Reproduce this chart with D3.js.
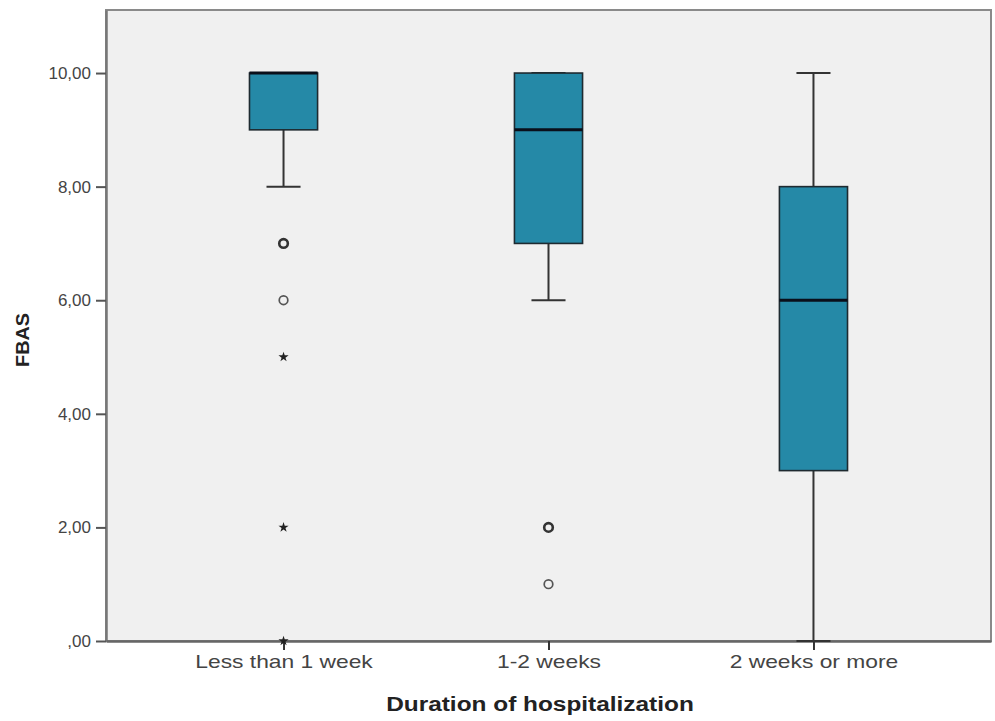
<!DOCTYPE html>
<html>
<head>
<meta charset="utf-8">
<script src="https://cdn.jsdelivr.net/npm/d3@7/dist/d3.min.js"></script>
<style>
  html, body { margin: 0; padding: 0; background: #ffffff; }
  svg { display: block; }
</style>
</head>
<body>
<svg id="chart" width="995" height="721"></svg>
<script>
// Duration-of-hospitalization groups and their FBAS box summaries
const categories = ["Less than 1 week", "1-2 weeks", "2 weeks or more"];
const whiskerLow  = [8, 6, 0];
const q1          = [9, 7, 3];
const median      = [10, 9, 6];
const q3          = [10, 10, 8];
const whiskerHigh = [10, 10, 10];

// Outliers: circles (o) and extremes (*); "count" > 1 draws a heavier ring
const outlierGroup = ["Less than 1 week", "Less than 1 week", "Less than 1 week", "Less than 1 week", "Less than 1 week", "1-2 weeks", "1-2 weeks"];
const outlierValue = [7, 6, 5, 2, 0, 2, 1];
const outlierKind  = ["circle", "circle", "star", "star", "star", "circle", "circle"];
const outlierCount = [2, 1, 1, 1, 1, 2, 1];

const yTicks = [0, 2, 4, 6, 8, 10];
const yTitle = "FBAS";
const xTitle = "Duration of hospitalization";

const svg = d3.select("#chart");
const plot = { left: 106, right: 991, top: 10, bottom: 641 };
const font = "Liberation Sans, Arial, sans-serif";

const x = d3.scalePoint()
  .domain(categories)
  .range([plot.left, plot.right])
  .padding(0.67);

const bw = x.step() * 0.257;   // box width

const y = d3.scaleLinear()
  .domain([0, 11.11])
  .range([plot.bottom, plot.top]);

const boxColor = "#2589a7";

// widen text horizontally by a factor
function stretch(sel, k) {
  sel.each(function () {
    const len = this.getComputedTextLength();
    d3.select(this).attr("textLength", len * k).attr("lengthAdjust", "spacingAndGlyphs");
  });
}

// plot background
svg.append("rect")
  .attr("x", plot.left).attr("y", plot.top)
  .attr("width", plot.right - plot.left).attr("height", plot.bottom - plot.top)
  .attr("fill", "#f0f0f0")
  .attr("stroke", "#8a8a8a").attr("stroke-width", 2);

// y axis
const yAxis = svg.append("g")
  .attr("transform", `translate(${plot.left},0)`)
  .call(d3.axisLeft(y).tickValues(yTicks).tickSize(10).tickSizeOuter(0).tickPadding(5)
    .tickFormat(d => d === 0 ? ",00" : d3.format(".2f")(d).replace(".", ",")));
yAxis.select(".domain").attr("stroke", "#777").attr("stroke-width", 2.5);
yAxis.selectAll(".tick line").attr("stroke", "#555").attr("stroke-width", 2);
yAxis.selectAll(".tick text")
  .attr("fill", "#444").attr("font-family", font)
  .attr("font-size", 17);

// x axis
const xAxis = svg.append("g")
  .attr("transform", `translate(0,${plot.bottom})`)
  .call(d3.axisBottom(x).tickSize(9).tickSizeOuter(0).tickPadding(5));
xAxis.select(".domain").attr("stroke", "#666").attr("stroke-width", 2.5);
xAxis.selectAll(".tick line").attr("stroke", "#333").attr("stroke-width", 2);
xAxis.selectAll(".tick text")
  .attr("fill", "#444").attr("font-family", font)
  .attr("font-size", 19)
  .call(stretch, 1.2);

// axis titles
svg.append("text")
  .attr("transform", `translate(29,340) rotate(-90)`)
  .attr("text-anchor", "middle")
  .attr("font-family", font)
  .attr("font-weight", "bold").attr("font-size", 18).attr("fill", "#222")
  .text(yTitle)
  .call(stretch, 1.1);

svg.append("text")
  .attr("x", 540).attr("y", 711)
  .attr("text-anchor", "middle")
  .attr("font-family", font)
  .attr("font-weight", "bold").attr("font-size", 20).attr("fill", "#222")
  .text(xTitle)
  .call(stretch, 1.22);

// boxes
const boxes = categories.map((c, i) => ({
  c, lo: whiskerLow[i], q1: q1[i], med: median[i], q3: q3[i], hi: whiskerHigh[i]
}));

const g = svg.append("g").selectAll("g").data(boxes).join("g")
  .attr("transform", d => `translate(${x(d.c)},0)`);

// whisker stems
g.append("line")
  .attr("x1", 0).attr("x2", 0)
  .attr("y1", d => y(d.lo)).attr("y2", d => y(d.q1))
  .attr("stroke", "#333").attr("stroke-width", 2);
g.append("line")
  .attr("x1", 0).attr("x2", 0)
  .attr("y1", d => y(d.q3)).attr("y2", d => y(d.hi))
  .attr("stroke", "#333").attr("stroke-width", 2);

// whisker caps
g.append("line")
  .attr("x1", -bw / 4).attr("x2", bw / 4)
  .attr("y1", d => y(d.lo)).attr("y2", d => y(d.lo))
  .attr("stroke", "#333").attr("stroke-width", 2);
g.append("line")
  .attr("x1", -bw / 4).attr("x2", bw / 4)
  .attr("y1", d => y(d.hi)).attr("y2", d => y(d.hi))
  .attr("stroke", "#333").attr("stroke-width", 2);

// box
g.append("rect")
  .attr("x", -bw / 2).attr("width", bw)
  .attr("y", d => y(d.q3)).attr("height", d => y(d.q1) - y(d.q3))
  .attr("fill", boxColor).attr("stroke", "#1e2a30").attr("stroke-width", 1.6);

// median
g.append("line")
  .attr("x1", -bw / 2).attr("x2", bw / 2)
  .attr("y1", d => y(d.med)).attr("y2", d => y(d.med))
  .attr("stroke", "#0a0f1a").attr("stroke-width", 3);

// outliers
const outliers = outlierValue.map((v, i) => ({
  c: outlierGroup[i], v, kind: outlierKind[i], n: outlierCount[i]
}));
const og = svg.append("g");
og.selectAll("circle").data(outliers.filter(d => d.kind === "circle")).join("circle")
  .attr("cx", d => x(d.c)).attr("cy", d => y(d.v))
  .attr("r", 4.3)
  .attr("fill", "none")
  .attr("stroke", d => d.n > 1 ? "#333" : "#555")
  .attr("stroke-width", d => d.n > 1 ? 2.6 : 1.7);
og.selectAll("path").data(outliers.filter(d => d.kind === "star")).join("path")
  .attr("transform", d => `translate(${x(d.c)},${y(d.v)})`)
  .attr("d", d3.symbol(d3.symbolStar, 32))
  .attr("fill", "#222");
</script>
</body>
</html>
